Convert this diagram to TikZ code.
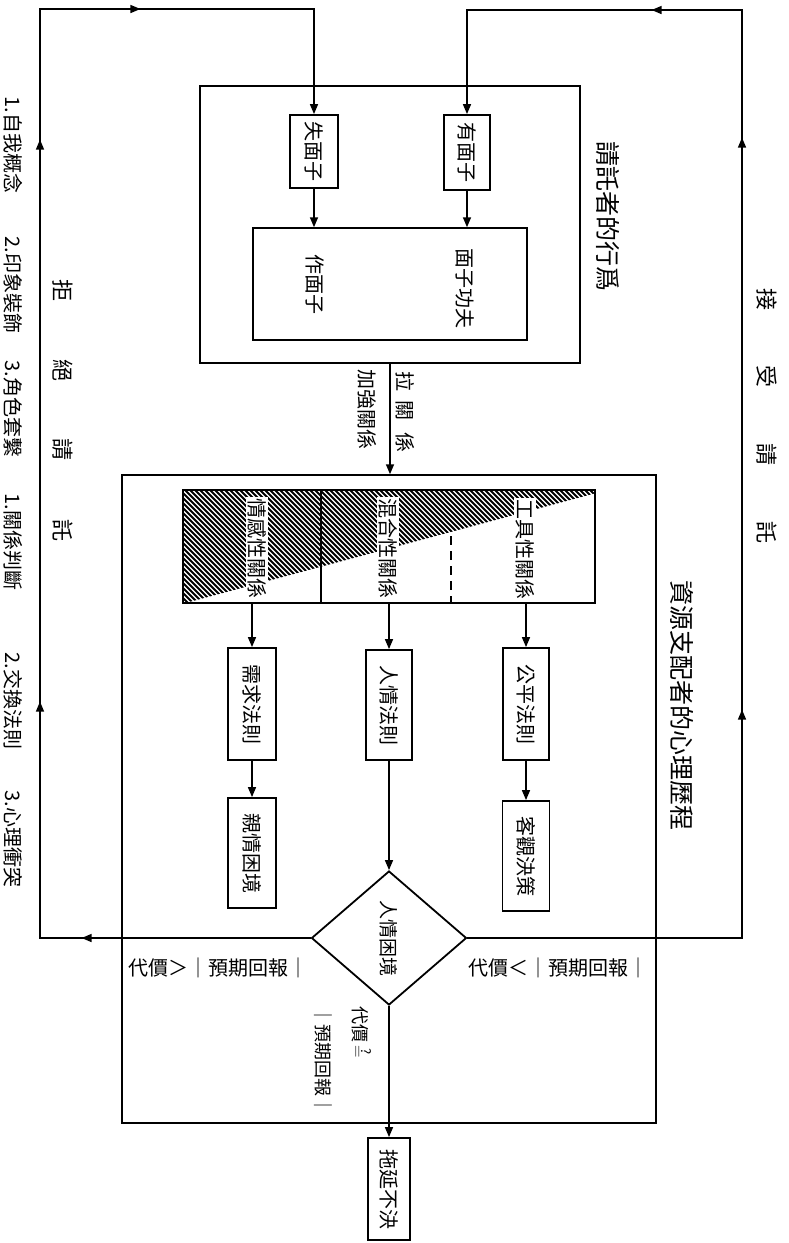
\documentclass[tikz,border=0pt]{standalone}
\usepackage{fontspec}
\setmainfont{Noto Sans CJK TC}
\usetikzlibrary{arrows.meta,shapes.geometric,decorations.markings}

\newcommand{\vtxt}[1]{\rotatebox[origin=c]{-90}{#1}}

\tikzset{
	box/.style={draw, line width=1.8pt, inner sep=0pt, font=\fontsize{20}{20}\selectfont},
	frame/.style={draw, line width=1.5pt, inner sep=0pt},
	flow/.style={line width=1.5pt},
	flowmark/.style={postaction={decorate, decoration={markings, mark=at position #1 with {\arrow{>}}}}},
	lbl/.style={inner sep=0pt, font=\fontsize{20}{20}\selectfont},
	head/.style={inner sep=0pt, font=\fontsize{25}{25}\selectfont},
	relname/.style={lbl, fill=white, inner sep=1.5pt},
}

\begin{document}
\begin{tikzpicture}[x=1pt, y=-1pt, >={Triangle[length=10pt,width=8pt]}]
	\useasboundingbox (0,0) rectangle (788,1243);
	% requester side
	\node[frame, minimum width=380, minimum height=277] (req) at (390,224.5) {};
	\node[frame, minimum width=274, minimum height=112] (act) at (390,284) {};
	\node[lbl] (actl) at (315,284) {\vtxt{作面子}};
	\node[lbl] (actr) at (465,288) {\vtxt{面子功夫}};
	\node[box, minimum width=48, minimum height=73] (lose) at (314,151.5) {\vtxt{失面子}};
	\node[box, minimum width=46, minimum height=75] (have) at (467,152.5) {\vtxt{有面子}};
	\draw[flow,->] (lose.south) -- (lose.south |- act.north);
	\draw[flow,->] (have.south) -- (have.south |- act.north);
	\node[head] (reqlbl) at (608,216) {\vtxt{請託者的行爲}};

	% resource allocator side
	\node[frame, minimum width=534, minimum height=648] (res) at (389,799) {};
	\node[head] (reslbl) at (682,705) {\vtxt{資源支配者的心理歷程}};
	\draw[flow,->] (req.south) -- (req.south |- res.north);
	\node[lbl] (pull) at (405,412) {\vtxt{拉\hspace{10pt}關\hspace{12pt}係}};
	\node[lbl] (tie) at (367,409) {\vtxt{加強關係}};

	\node[draw, line width=1.8pt, minimum width=412, minimum height=113] (rel) at (389,546.5) {};
	\begin{scope}
		\clip (rel.north west) -- (rel.north east) -- ([yshift=-4pt]rel.north east) -- (rel.south west) -- cycle;
		\foreach \s in {50,55,...,600} \draw[line width=2pt] (\s,480) -- ++(130,130);
	\end{scope}
	\draw[line width=1.3pt] (321,490) -- (321,603);
	\draw[line width=1.3pt, dash pattern=on 9pt off 6pt] (451,536) -- (451,603);
	\node[relname] (affect) at (257,548) {\vtxt{情感性關係}};
	\node[relname] (mixed) at (388,548) {\vtxt{混合性關係}};
	\node[relname] (instr) at (525,549) {\vtxt{工具性關係}};

	\node[box, minimum width=48, minimum height=112] (need) at (252,704) {\vtxt{需求法則}};
	\node[box, minimum width=46, minimum height=110] (favor) at (389,705) {\vtxt{人情法則}};
	\node[box, minimum width=46, minimum height=112] (fair) at (526,704) {\vtxt{公平法則}};
	\node[box, minimum width=48, minimum height=110] (kin) at (252,853) {\vtxt{親情困境}};
	\node[box, minimum width=47, minimum height=110] (obj) at (526,856) {\vtxt{客觀決策}};
	\node[diamond, draw, line width=1.8pt, inner sep=0pt, minimum width=155, minimum height=134, font=\fontsize{19}{19}\selectfont] (hum) at (389,938) {\vtxt{人情困境}};
	\node[box, minimum width=42, minimum height=102] (delay) at (389,1189) {\vtxt{拖延不決}};
	\draw[flow,->] (need.north |- rel.south) -- (need.north);
	\draw[flow,->] (favor.north |- rel.south) -- (favor.north);
	\draw[flow,->] (fair.north |- rel.south) -- (fair.north);
	\draw[flow,->] (need.south) -- (kin.north);
	\draw[flow,->] (fair.south) -- (obj.north);
	\draw[flow,->] (favor.south) -- (hum.north);
	\draw[flow,->] (hum.south) -- (delay.north);

	\node[lbl, anchor=west] (more) at (128,968) {代價＞｜預期回報｜};
	\node[lbl, anchor=west] (less) at (468,968) {代價＜｜預期回報｜};
	\node[lbl, font=\fontsize{18}{37}\selectfont] (equal) at (342,1060) {\vtxt{\begin{tabular}{@{}l@{}}代價\,$\stackrel{\mbox{\fontsize{13}{13}\selectfont ?}}{=}$\\｜預期回報｜\end{tabular}}};

	% feedback loops
	\coordinate (lb) at (40,938);
	\coordinate (lt) at (40,9);
	\coordinate (rb) at (742,938);
	\coordinate (rt) at (742,10);
	\draw[flow,->,flowmark=229pt,flowmark=507pt,flowmark=1069pt,flowmark=1300pt] (hum.west) -- (lb) -- (lt) -- (lt -| lose.north) -- (lose.north);
	\draw[flow,->,flowmark=1075pt,flowmark=503pt,flowmark=1293pt] (hum.east) -- (rb) -- (rt) -- (rt -| have.north) -- (have.north);
	\node[lbl, font=\fontsize{22}{22}\selectfont] (reject) at (63,410) {\vtxt{拒\hspace{58pt}絕\hspace{58pt}請\hspace{58pt}託}};
	\node[lbl, font=\fontsize{22}{22}\selectfont] (accept) at (767,416) {\vtxt{接\hspace{56pt}受\hspace{56pt}請\hspace{56pt}託}};

	\node[lbl] (c1) at (13,145) {\vtxt{1.自我概念}};
	\node[lbl] (c2) at (13,285) {\vtxt{2.印象裝飾}};
	\node[lbl] (c3) at (13,409) {\vtxt{3.角色套繫}};
	\node[lbl] (c4) at (13,542) {\vtxt{1.關係判斷}};
	\node[lbl] (c5) at (13,701) {\vtxt{2.交換法則}};
	\node[lbl] (c6) at (13,839) {\vtxt{3.心理衝突}};
\end{tikzpicture}
\end{document}
